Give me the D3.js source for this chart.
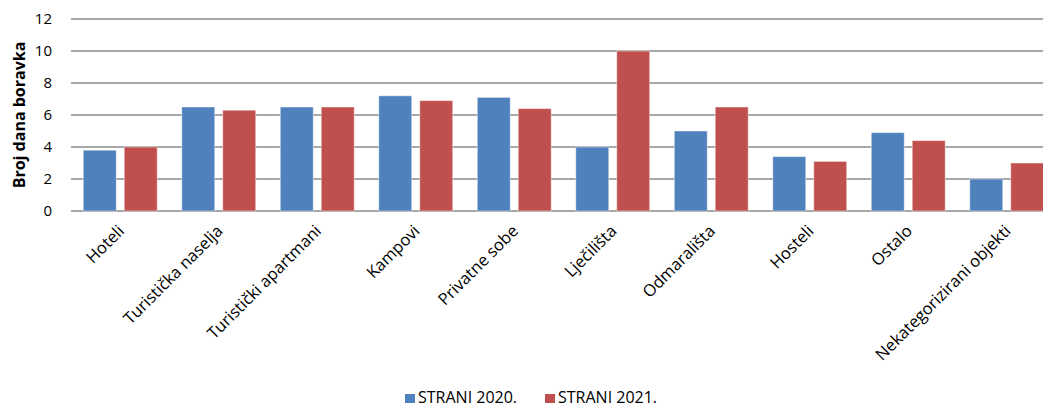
<!DOCTYPE html>
<html>
<head>
<meta charset="utf-8">
<script src="https://cdn.jsdelivr.net/npm/d3@7/dist/d3.min.js"></script>
<style>
  html, body { margin: 0; padding: 0; background: #fff; }
  svg { display: block; font-family: "Open Sans", "Noto Sans", sans-serif; }
</style>
</head>
<body>
<svg id="chart" width="1043" height="407"></svg>
<script>
const categories = ["Hoteli", "Turistička naselja", "Turistički apartmani", "Kampovi", "Privatne sobe",
  "Lječilišta", "Odmarališta", "Hosteli", "Ostalo", "Nekategorizirani objekti"];
const seriesNames = ["STRANI 2020.", "STRANI 2021."];
const strani2020 = [3.8, 6.5, 6.5, 7.2, 7.1, 4.0, 5.0, 3.4, 4.9, 2.0];
const strani2021 = [4.0, 6.3, 6.5, 6.9, 6.4, 10.0, 6.5, 3.1, 4.4, 3.0];
const yTicks = [0, 2, 4, 6, 8, 10, 12];
const colors = ["#4F81BD", "#C0504D"];
const yTitle = "Broj dana boravka";

(function () {
const svg = d3.select("#chart");
const W = 1043;
const pLeft = 71, pRight = 1056, pTop = 19, pBottom = 211;

const x = d3.scaleBand().domain(categories).range([pLeft, pRight]).paddingInner(0).paddingOuter(0);
const xs = d3.scaleBand().domain([0, 1]).range([0, x.bandwidth()]).paddingInner(0.195).paddingOuter(0.3);
const y = d3.scaleLinear().domain([0, 12]).range([pBottom, pTop]);

// gridlines
svg.append("g").selectAll("line").data(yTicks).join("line")
  .attr("x1", pLeft).attr("x2", W)
  .attr("y1", d => y(d)).attr("y2", d => y(d))
  .attr("stroke", "#8a8a8a").attr("stroke-width", 1.6);

// y tick labels
const yAxis = d3.axisLeft(y).tickValues(yTicks).tickSize(0).tickPadding(0);
const ya = svg.append("g").attr("transform", `translate(${pLeft - 19},0)`).call(yAxis);
ya.select(".domain").remove();
ya.selectAll("text").attr("font-size", 15).attr("fill", "#000")
  .attr("font-family", "'Open Sans', sans-serif");

// bars
const data = [strani2020, strani2021];
const groups = svg.append("g").selectAll("g").data(categories).join("g")
  .attr("transform", d => `translate(${x(d)},0)`);
groups.selectAll("rect").data((d, i) => data.map((s, k) => ({k, v: s[i]}))).join("rect")
  .attr("x", d => xs(d.k))
  .attr("width", xs.bandwidth())
  .attr("y", d => y(d.v))
  .attr("height", d => y(0) - y(d.v))
  .attr("fill", d => colors[d.k])
  .attr("stroke", "rgba(255,255,255,0.45)").attr("stroke-width", 1);

// x labels
svg.append("g").selectAll("text").data(categories).join("text")
  .attr("transform", d => `translate(${x(d) + x.bandwidth() / 2 + 5},232) rotate(-45)`)
  .attr("text-anchor", "end")
  .attr("font-size", 16.5)
  .attr("fill", "#000")
  .text(d => d);

// y title
svg.append("text")
  .attr("transform", `translate(25,115) rotate(-90)`)
  .attr("text-anchor", "middle")
  .attr("font-size", 16).attr("font-weight", "bold")
  .text(yTitle);

// legend
const legX = [405, 545];
const leg = svg.append("g").selectAll("g").data(seriesNames).join("g")
  .attr("transform", (d, i) => `translate(${legX[i]},0)`);
leg.append("rect").attr("x", 0).attr("y", 394).attr("width", 10).attr("height", 9)
  .attr("fill", (d, i) => colors[i]);
leg.append("text").attr("x", 13).attr("y", 402.5).attr("font-size", 16).text(d => d);
})();
</script>
</body>
</html>
